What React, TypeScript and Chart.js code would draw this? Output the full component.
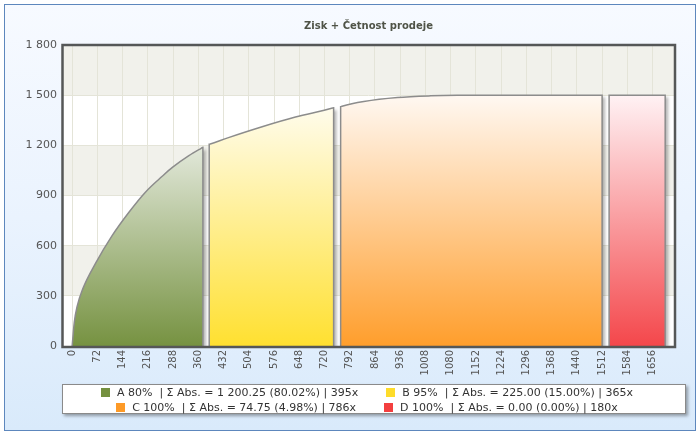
import React, { useEffect, useRef } from 'react';
import { Chart, registerables } from 'chart.js';
Chart.register(...registerables);

const chartTitle = 'Zisk + Četnost prodeje';
const yTicks = [0, 300, 600, 900, 1200, 1500, 1800];
const yTickLabels = ['0', '300', '600', '900', '1 200', '1 500', '1 800'];
const xTicks = [0, 72, 144, 216, 288, 360, 432, 504, 576, 648, 720, 792, 864, 936, 1008, 1080, 1152, 1224, 1296, 1368, 1440, 1512, 1584, 1656];

// cumulative profit curves per ABC class (x = item order, y = cumulative profit)
const aX = [0, 6, 14, 30, 67, 114, 162, 209, 257, 286, 333, 368, 373, 373];
const aY = [0, 140, 235, 340, 495, 660, 800, 920, 1015, 1068, 1138, 1182, 1188, 0];
const bX = [391, 391, 394, 446, 542, 637, 743, 746, 746];
const bY = [0, 1206, 1208, 1246, 1311, 1369, 1423, 1425, 0];
const cX = [766, 766, 770, 832, 928, 1023, 1099, 1300, 1512, 1512];
const cY = [0, 1431, 1434, 1462, 1486, 1496, 1499, 1500, 1500, 0];
const dX = [1532, 1532, 1692, 1692];
const dY = [0, 1500, 1500, 0];

const seriesLabels = [
  'A 80%  | Σ Abs. = 1 200.25 (80.02%) | 395x',
  'B 95%  | Σ Abs. = 225.00 (15.00%) | 365x',
  'C 100%  | Σ Abs. = 74.75 (4.98%) | 786x',
  'D 100%  | Σ Abs. = 0.00 (0.00%) | 180x',
];
const seriesColors = ['#74903f', '#fedc2a', '#fd9a27', '#f33f3f'];
const gradientTops = ['#e2e8da', '#fffcec', '#fff8f2', '#fff2f4'];
const gradientBottoms = ['#769241', '#ffe030', '#ff9e2c', '#f4474b'];
const seriesX = [aX, bX, cX, dX];
const seriesY = [aY, bY, cY, dY];
const legendRows = [[0, 1], [2, 3]];

const FONT = 'DejaVu Sans';

const plotDecor = {
  id: 'plotDecor',
  beforeDraw(chart: any) {
    const { ctx, chartArea: a, scales } = chart;
    ctx.save();
    ctx.fillStyle = '#ffffff';
    ctx.fillRect(a.left, a.top, a.right - a.left, a.bottom - a.top);
    ctx.fillStyle = '#f1f1eb';
    for (let i = 1; i < yTicks.length - 1; i += 2) {
      const y1 = scales.y.getPixelForValue(yTicks[i]);
      const y2 = scales.y.getPixelForValue(yTicks[i + 1]);
      ctx.fillRect(a.left, y2, a.right - a.left, y1 - y2);
    }
    ctx.restore();
  },
  // drop shadow of each area, painted from the line element's own path
  beforeDatasetsDraw(chart: any) {
    const { ctx, chartArea: a } = chart;
    ctx.save();
    ctx.beginPath();
    ctx.rect(a.left, a.top, a.right - a.left, a.bottom - a.top);
    ctx.clip();
    chart.getSortedVisibleDatasetMetas().forEach((meta: any) => {
      const line = meta.dataset;
      if (!line || !line.points || !line.points.length) return;
      ctx.save();
      ctx.translate(3, 2);
      ctx.filter = 'blur(1.5px)';
      ctx.fillStyle = 'rgba(0,0,0,0.28)';
      ctx.beginPath();
      line.path(ctx);
      ctx.closePath();
      ctx.fill();
      ctx.restore();
    });
    ctx.restore();
  },
  afterDatasetsDraw(chart: any) {
    const { ctx, chartArea: a } = chart;
    ctx.save();
    ctx.strokeStyle = '#555757';
    ctx.lineWidth = 2.5;
    ctx.strokeRect(a.left + 0.5, a.top, a.right - a.left - 0.5, a.bottom - a.top + 1);
    ctx.restore();
  },
};

export default function App() {
  const ref = useRef<HTMLCanvasElement | null>(null);

  useEffect(() => {
    if (!ref.current) return;
    const datasets = seriesX.map((xs, i) => ({
      label: seriesLabels[i],
      data: xs.map((x, j) => ({ x, y: seriesY[i][j] })),
      fill: 'origin',
      borderColor: '#8c8c8c',
      borderWidth: 1.5,
      pointRadius: 0,
      cubicInterpolationMode: 'monotone',
      backgroundColor: (c: any) => {
        const chart = c.chart;
        const area = chart.chartArea;
        if (!area) return seriesColors[i];
        const top = chart.scales.y.getPixelForValue(Math.max(...seriesY[i]));
        const g = chart.ctx.createLinearGradient(0, top, 0, area.bottom);
        g.addColorStop(0, gradientTops[i]);
        g.addColorStop(1, gradientBottoms[i]);
        return g;
      },
    }));

    const chart = new Chart(ref.current, {
      type: 'line',
      data: { datasets } as any,
      options: {
        responsive: false,
        animation: false,
        layout: { padding: { left: 0, right: 24, top: 0, bottom: 0 } },
        plugins: {
          legend: { display: false },
          tooltip: { enabled: false },
          title: {
            display: true,
            fullSize: false,
            text: chartTitle,
            color: '#4f5347',
            font: { family: FONT, size: 10, weight: 'bold' },
            padding: { top: 20, bottom: 13 },
          },
        },
        scales: {
          x: {
            type: 'linear',
            min: -29,
            max: 1720,
            afterBuildTicks: (s: any) => {
              s.ticks = xTicks.map((v) => ({ value: v }));
            },
            afterFit: (s: any) => {
              s.height = 88;
            },
            ticks: {
              autoSkip: false,
              minRotation: 90,
              maxRotation: 90,
              padding: 4,
              color: '#555555',
              font: { family: FONT, size: 10 },
              callback: (v: any) => String(v),
            },
            grid: { color: '#e4e4d8', drawTicks: false, lineWidth: 1 },
            border: { display: false },
          },
          y: {
            type: 'linear',
            min: 0,
            max: 1800,
            afterBuildTicks: (s: any) => {
              s.ticks = yTicks.map((v) => ({ value: v }));
            },
            afterFit: (s: any) => {
              s.width = 62;
            },
            ticks: {
              padding: 5,
              color: '#555555',
              font: { family: FONT, size: 11 },
              callback: (v: any) => {
                const k = yTicks.indexOf(Number(v));
                return k >= 0 ? yTickLabels[k] : '';
              },
            },
            grid: { color: '#e4e4d8', drawTicks: false, lineWidth: 1 },
            border: { display: false },
          },
        },
      },
      plugins: [plotDecor],
    } as any);
    return () => chart.destroy();
  }, []);

  return (
    <div style={{ position: 'fixed', left: 0, top: 0, width: 699, height: 434, background: '#ffffff' }}>
      <div
        style={{
          position: 'absolute',
          left: 4,
          top: 4,
          width: 690,
          height: 425,
          border: '1px solid #5d87bd',
          background: 'linear-gradient(to bottom, #f7faff 0%, #eaf3fe 50%, #d9eafb 100%)',
        }}
      />
      <canvas ref={ref} width={699} height={434} style={{ position: 'absolute', left: 0, top: 0 }} />
      <div
        style={{
          position: 'absolute',
          left: 62,
          top: 384,
          width: 622,
          height: 28,
          border: '1px solid #8a8a8a',
          background: '#ffffff',
          boxShadow: '2px 2px 3px rgba(0,0,0,0.35)',
          fontFamily: '"DejaVu Sans", sans-serif',
          fontSize: '11px',
          color: '#333333',
        }}
      >
        {legendRows.map((row, r) => (
          <div
            key={r}
            style={{ display: 'flex', justifyContent: 'center', height: 15, lineHeight: '15px', paddingRight: 14 }}
          >
            {row.map((i, k) => (
              <div key={i} style={{ display: 'flex', alignItems: 'center', marginLeft: k > 0 ? 28 : 0 }}>
                <span style={{ display: 'inline-block', width: 9, height: 9, background: seriesColors[i], marginRight: 7 }} />
                <span style={{ whiteSpace: 'pre' }}>{seriesLabels[i]}</span>
              </div>
            ))}
          </div>
        ))}
      </div>
    </div>
  );
}
